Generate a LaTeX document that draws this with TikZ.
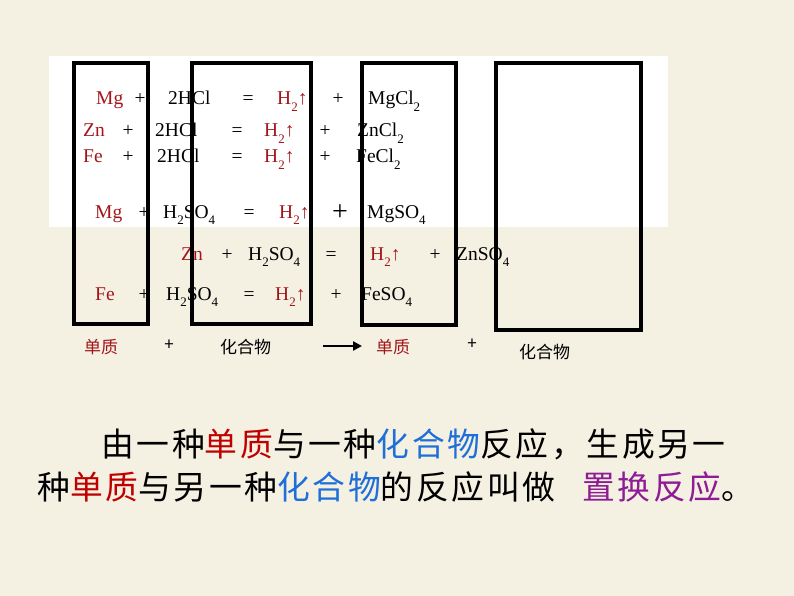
\documentclass[tikz,border=0pt]{standalone}
\usepackage{fontspec}
\setmainfont{Liberation Serif}
\newfontfamily\cjk{Noto Sans CJK SC}
\newfontfamily\cjkwide{Noto Sans CJK SC}[LetterSpace=8]
\usepackage{tikz}
\usetikzlibrary{arrows.meta}
\definecolor{paper}{HTML}{F4F1E3}
\definecolor{elem}{HTML}{A3151B}
\definecolor{dan}{HTML}{C00000}
\definecolor{hua}{HTML}{1F6FD8}
\definecolor{zhi}{HTML}{8E1C94}
\newcommand{\sub}[1]{\raisebox{-0.32em}{\fontsize{13}{13}\selectfont #1}}
\newcommand{\Hup}{H\sub{2}↑}

\begin{document}
\begin{tikzpicture}[x=1pt, y=-1pt,
  term/.style={anchor=base west, inner sep=0pt, font=\fontsize{19.5}{19.5}\selectfont},
  metal/.style={term, text=elem},
  op/.style={anchor=base, inner sep=0pt, font=\fontsize{19.5}{19.5}\selectfont},
  lab/.style={anchor=west, inner sep=0pt, font=\cjk\fontsize{17}{17}\selectfont},
  box/.style={draw=black, line width=3.6pt}]
\fill[paper] (0,0) rectangle (794,596);
\useasboundingbox (0,0) rectangle (794,596);
\fill[white] (49,56) rectangle (668,227);

% Mg + 2HCl
\node[metal] (mg1) at (96,105) {Mg};
\node[op] (pa1) at (140,105) {+};
\node[term] (hcl1) at (168,105) {2HCl};
\node[op] (eq1) at (248,105) {=};
\node[metal] (h1) at (277,105) {\Hup};
\node[op] (pb1) at (338,105) {+};
\node[term] (salt1) at (368,105) {MgCl\sub{2}};
% Zn + 2HCl
\node[metal] (zn2) at (83,137) {Zn};
\node[op] (pa2) at (128,137) {+};
\node[term] (hcl2) at (155,137) {2HCl};
\node[op] (eq2) at (237,137) {=};
\node[metal] (h2) at (264,137) {\Hup};
\node[op] (pb2) at (325,137) {+};
\node[term] (salt2) at (357,137) {ZnCl\sub{2}};
% Fe + 2HCl
\node[metal] (fe3) at (83,163) {Fe};
\node[op] (pa3) at (128,163) {+};
\node[term] (hcl3) at (157,163) {2HCl};
\node[op] (eq3) at (237,163) {=};
\node[metal] (h3) at (264,163) {\Hup};
\node[op] (pb3) at (325,163) {+};
\node[term] (salt3) at (356,163) {FeCl\sub{2}};
% Mg + H2SO4
\node[metal] (mg4) at (95,218) {Mg};
\node[op] (pa4) at (144,218) {+};
\node[term] (acid4) at (163,218) {H\sub{2}SO\sub{4}};
\node[op] (eq4) at (249,218) {=};
\node[metal] (h4) at (279,218) {\Hup};
\node[op, font=\fontsize{28}{28}\selectfont] (pb4) at (340,220) {+};
\node[term] (salt4) at (367,218) {MgSO\sub{4}};
% Zn + H2SO4
\node[metal] (zn5) at (181,260) {Zn};
\node[op] (pa5) at (227,260) {+};
\node[term] (acid5) at (248,260) {H\sub{2}SO\sub{4}};
\node[op] (eq5) at (331,260) {=};
\node[metal] (h5) at (370,260) {\Hup};
\node[op] (pb5) at (435,260) {+};
\node[term] (salt5) at (456,260) {ZnSO\sub{4}};
% Fe + H2SO4
\node[metal] (fe6) at (95,300) {Fe};
\node[op] (pa6) at (144,300) {+};
\node[term] (acid6) at (166,300) {H\sub{2}SO\sub{4}};
\node[op] (eq6) at (249,300) {=};
\node[metal] (h6) at (275,300) {\Hup};
\node[op] (pb6) at (336,300) {+};
\node[term] (salt6) at (361,300) {FeSO\sub{4}};

% the four boxes
\draw[box] (74,63) rectangle (148,324);
\draw[box] (192,63) rectangle (311,324);
\draw[box] (362,63) rectangle (456,325);
\draw[box] (496,63) rectangle (641,330);

% word equation
\node[lab, text=elem] (dz1) at (84,347) {单质};
\node[lab, anchor=center] (lp1) at (169,345) {+};
\node[lab] (hh1) at (220,347) {化合物};
\coordinate (arrS) at (323,346);
\coordinate (arrE) at (362,346);
\draw[line width=2.6pt, -{Triangle[length=9pt, width=9pt]}] (arrS) -- (arrE);
\node[lab, text=elem] (dz2) at (376,347) {单质};
\node[lab, anchor=center] (lp2) at (472,344) {+};
\node[lab] (hh2) at (519,352) {化合物};

% definition
\node[anchor=west, inner sep=0pt, font=\cjkwide\fontsize{32.8}{32.8}\selectfont] (def1) at (101,444)
  {由一种\textcolor{dan}{单质}与一种\textcolor{hua}{化合物}反应，生成另一};
\node[anchor=west, inner sep=0pt, font=\cjkwide\fontsize{32.8}{32.8}\selectfont] (def2) at (37,487)
  {种\textcolor{dan}{单质}与另一种\textcolor{hua}{化合物}的反应叫做};
\node[anchor=west, inner sep=0pt, font=\cjkwide\fontsize{32.8}{32.8}\selectfont, text=zhi] (def3) at (582,487)
  {置换反应\textcolor{black}{。}};
\end{tikzpicture}
\end{document}
